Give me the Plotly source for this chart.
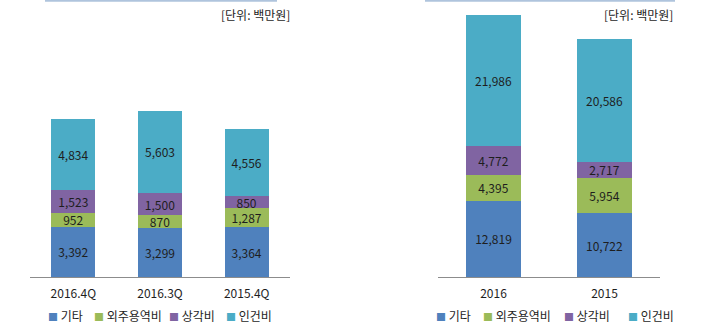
import plotly.graph_objects as go

# ---- data ----
series_names = ["기타", "외주용역비", "상각비", "인건비"]
series_colors = ["#4F81BD", "#9BBB59", "#8064A2", "#4BACC6"]

quarter_categories = ["2016.4Q", "2016.3Q", "2015.4Q"]
quarter_values = {
    "기타": [3392, 3299, 3364],
    "외주용역비": [952, 870, 1287],
    "상각비": [1523, 1500, 850],
    "인건비": [4834, 5603, 4556],
}

year_categories = ["2016", "2015"]
year_values = {
    "기타": [12819, 10722],
    "외주용역비": [4395, 5954],
    "상각비": [4772, 2717],
    "인건비": [21986, 20586],
}

unit_label = "[단위: 백만원]"

FONT = "Noto Sans CJK KR, Malgun Gothic, sans-serif"
W, H = 717, 326

fig = go.Figure()

for name, color in zip(series_names, series_colors):
    fig.add_trace(go.Bar(
        x=quarter_categories, y=quarter_values[name], name=name,
        marker=dict(color=color, line=dict(width=0)),
        width=0.51, xaxis="x", yaxis="y",
        texttemplate="%{y:,}", textposition="inside", insidetextanchor="middle",
        textangle=0, constraintext="none",
        textfont=dict(family=FONT, size=12, color="#1e1e1e"),
        showlegend=False, hoverinfo="x+y+name",
    ))
    fig.add_trace(go.Bar(
        x=year_categories, y=year_values[name], name=name,
        marker=dict(color=color, line=dict(width=0)),
        width=0.5, xaxis="x2", yaxis="y2",
        texttemplate="%{y:,}", textposition="inside", insidetextanchor="middle",
        textangle=0, constraintext="none",
        textfont=dict(family=FONT, size=12, color="#1e1e1e"),
        showlegend=False, hoverinfo="x+y+name",
    ))

def px_x(p):
    return p / W

def px_y(p):
    return 1 - p / H

axis_common = dict(
    showline=True, linecolor="#8c8c8c", linewidth=1,
    ticks="outside", ticklen=6, tickcolor="rgba(0,0,0,0)",
    tickfont=dict(family=FONT, size=12, color="#1e1e1e"),
    showgrid=False, zeroline=False, fixedrange=True,
)
yaxis_common = dict(visible=False, showgrid=False, zeroline=False, fixedrange=True)

fig.update_layout(
    width=W, height=H,
    margin=dict(l=0, r=0, t=0, b=0),
    paper_bgcolor="white", plot_bgcolor="white",
    barmode="stack",
    showlegend=False,
    font=dict(family=FONT, size=12, color="#1e1e1e"),
    xaxis=dict(domain=[px_x(30), px_x(290)], anchor="y", **axis_common),
    yaxis=dict(domain=[px_y(277), px_y(10)], range=[0, 18083], anchor="x", **yaxis_common),
    xaxis2=dict(domain=[px_x(438), px_x(660)], anchor="y2", **axis_common),
    yaxis2=dict(domain=[px_y(277), px_y(10)], range=[0, 44866], anchor="x2", **yaxis_common),
)

annotations = []
# unit labels
for xr in (292, 675):
    annotations.append(dict(
        text=unit_label, xref="paper", yref="paper",
        x=px_x(xr), y=px_y(15), xanchor="right", yanchor="middle",
        showarrow=False, font=dict(family=FONT, size=12, color="#1e1e1e"),
    ))

# legends (text-based, one per chart)
legend_left_x = [46, 92, 167, 224]
legend_right_x = [434, 481, 562, 626]
for xs in (legend_left_x, legend_right_x):
    for name, color, xp in zip(series_names, series_colors, xs):
        annotations.append(dict(
            text=f"<span style='color:{color};font-size:10px'>■</span> {name}",
            xref="paper", yref="paper",
            x=px_x(xp), y=px_y(315), xanchor="left", yanchor="middle",
            showarrow=False, font=dict(family=FONT, size=12, color="#1e1e1e"),
        ))
fig.update_layout(annotations=annotations)

# decorative header edge lines at the top
shapes = []
for x0, x1 in ((45, 277), (425, 675)):
    shapes.append(dict(
        type="line", xref="paper", yref="paper",
        x0=px_x(x0), x1=px_x(x1), y0=px_y(0.8), y1=px_y(0.8),
        line=dict(color="#AFC4DD", width=2),
    ))
fig.update_layout(shapes=shapes)

fig.write_html("out.html")
